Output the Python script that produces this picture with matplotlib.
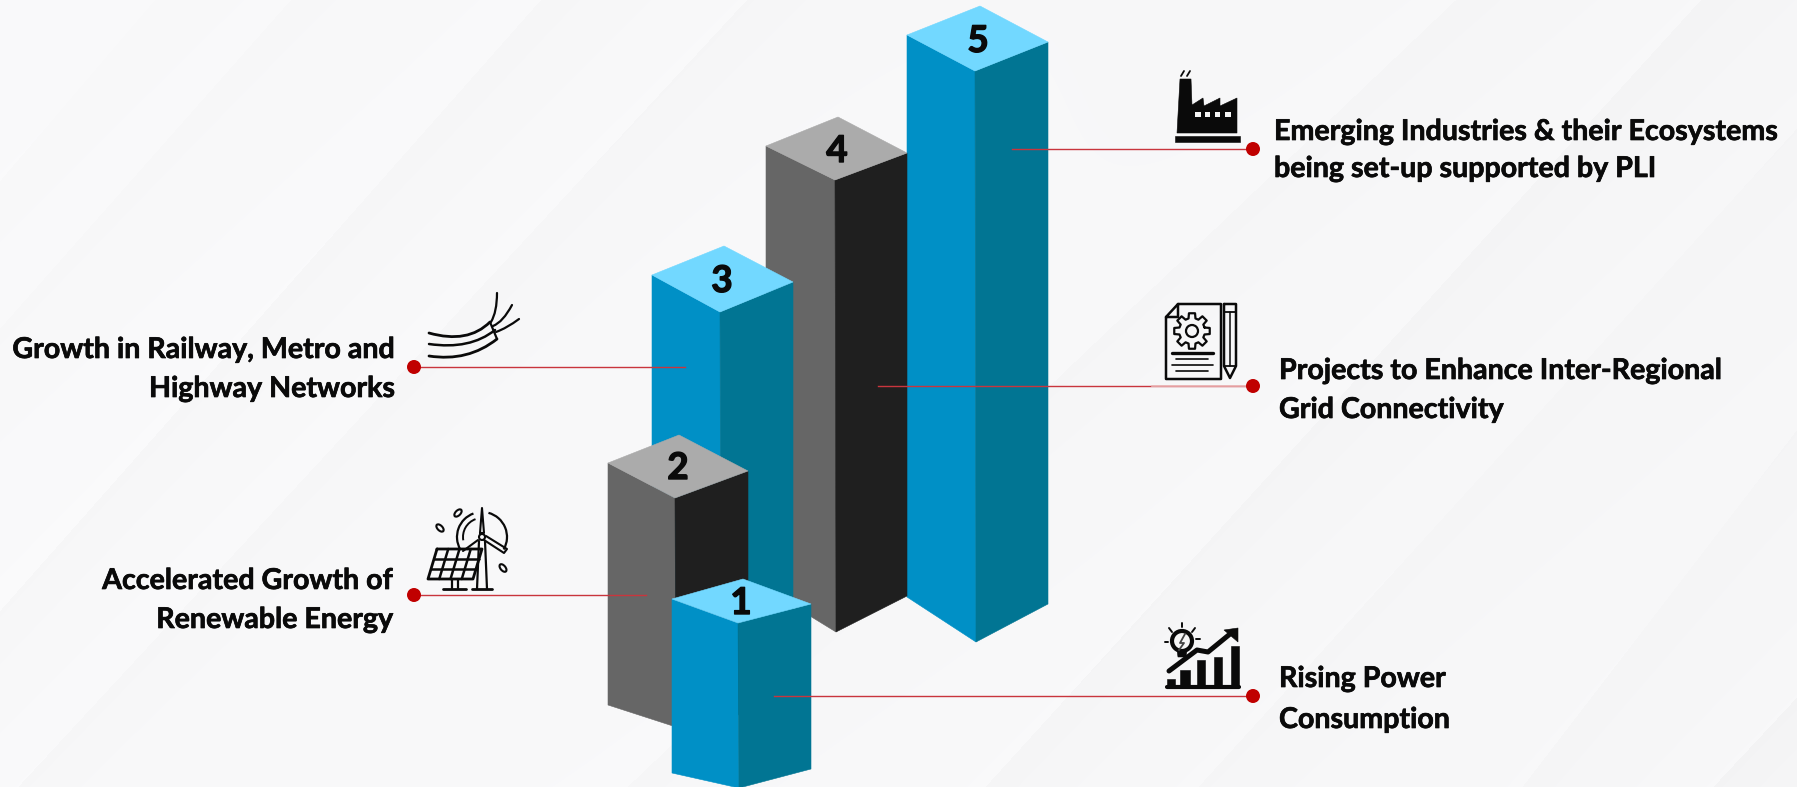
#!/usr/bin/env python3
"""Five isometric columns with callouts on what drives transmission demand."""
import matplotlib
matplotlib.use("Agg")
import matplotlib.pyplot as plt
import matplotlib.patheffects as pe
from matplotlib.patches import Polygon, Circle, Ellipse, Arc, Rectangle
from matplotlib.path import Path
from matplotlib.patches import PathPatch
import numpy as np

W, H = 1797, 787

# ── Data ───────────────────────────────────────────────────────────────────
steps = ["1", "2", "3", "4", "5"]
bar_heights = [165, 229, 380, 452, 571]
callouts = [
    ["Rising Power", "Consumption"],
    ["Accelerated Growth of", "Renewable Energy"],
    ["Growth in Railway, Metro and", "Highway Networks"],
    ["Projects to Enhance Inter-Regional", "Grid Connectivity"],
    ["Emerging Industries & their Ecosystems", "being set-up supported by PLI"],
]

# ── Layout (pixel coordinates, y down) ─────────────────────────────────────
# top diamond of each column: left, back, right, front corner
tops = [
    [(672, 599), (743, 579), (811, 604), (738, 623)],
    [(608, 463), (679, 435), (748, 471), (675, 498)],
    [(652, 275), (724, 246), (793, 282), (720, 312)],
    [(766, 146), (838, 117), (907, 153), (835, 180)],
    [(907, 35), (980, 6), (1048, 42), (975, 71)],
]
left_extra = [9, 13, 0, -9, -9]
right_extra = [0, 13, 0, -9, -9]
number_pos = [(741, 614), (678, 479), (722, 292), (837, 162), (978, 52)]
is_blue = [True, False, True, False, True]

# dot x, line y, line end x, text x, text anchor, text baselines
leaders = [
    (1253, 696, 774, 1279, "left", (687, 728)),
    (414, 595, 646, 393, "right", (589, 628)),
    (414, 367, 685, 395, "right", (358, 397)),
    (1253, 386, 878, 1279, "left", (379, 418)),
    (1253, 149, 1012, 1274, "left", (140, 177)),
]

BLUE = ("#0090c6", "#017593", "#72d8ff")
GREY = ("#666666", "#1f1f1f", "#ababab")
RED = "#c00000"
LINE = "#c9353d"
INK = "#0a0a0a"
PAPER = "#f6f6f6"
FONT = "Lato"
TEXT_SIZE = 20.6

# diagonal folds of the backdrop: x where the fold meets y=0, slope, depth
folds = [(154, 1.17, 1.2), (290, 1.13, 1.5), (540, 1.13, 2.6), (746, 1.08, 2.4),
         (1455, 0.95, 2.4), (1700, 1.10, 3.0), (1913, 1.10, 1.8),
         (2127, 1.30, 2.0), (2448, 1.07, 3.2)]


def backdrop():
    yy, xx = np.mgrid[0:H, 0:W]
    img = np.full((H, W), 249.5)
    for x0, slope, depth in folds:
        d = xx - (x0 - yy / slope)
        img -= depth * np.exp(-np.clip(d, 0, None) / 90.0) * (d > 0)
        img += 0.4 * depth * np.exp(-np.clip(-d, 0, None) / 60.0) * (d <= 0)
    # the right half sits a touch darker than the left
    img -= 2.5 * xx / W
    img = np.clip(img, 0, 255) / 255.0
    rgb = np.dstack([img, img, img + 0.004])
    return np.clip(rgb, 0, 1)


def poly(ax, pts, fc, z=3):
    ax.add_patch(Polygon(pts, closed=True, fc=fc, ec=fc, lw=0.4, zorder=z))


def column(ax, top, height, dl, dr, colors, z):
    left, back, right, front = top
    lb = (left[0], left[1] + height + dl)
    rb = (right[0], right[1] + height + dr)
    fb = (front[0] + 1, front[1] + height)
    poly(ax, [left, front, fb, lb], colors[0], z)
    poly(ax, [front, right, rb, fb], colors[1], z)
    poly(ax, [left, back, right, front], colors[2], z)


def stroke(ax, xs, ys, lw=1.8, color=INK):
    ax.plot(xs, ys, color=color, lw=lw, solid_capstyle="round",
            solid_joinstyle="round", zorder=4)


def curve(ax, pts, lw=1.8):
    codes = [Path.MOVETO] + [Path.CURVE3] * (len(pts) - 1)
    ax.add_patch(PathPatch(Path(pts, codes), fc="none", ec=INK, lw=lw,
                           capstyle="round", zorder=4))


def factory_icon(ax):
    poly(ax, [(1175, 136), (1240, 136), (1240, 142), (1175, 142)], INK, 4)
    poly(ax, [(1177, 133), (1180, 79), (1191, 79), (1192, 105), (1203, 98),
              (1204, 106), (1220, 98), (1220, 106), (1237, 98), (1237, 133)],
         INK, 4)
    for wx, ww in ((1195, 6), (1205, 5), (1215, 5), (1225, 6)):
        ax.add_patch(Rectangle((wx, 112), ww, 5, fc=PAPER, ec="none", zorder=5))
    stroke(ax, [1181, 1184], [76, 71], 1.3)
    stroke(ax, [1187, 1190], [76, 71], 1.3)


def document_icon(ax):
    stroke(ax, [1178, 1221, 1221, 1166, 1166, 1178, 1178, 1166],
           [304, 304, 379, 379, 317, 304, 317, 317])
    stroke(ax, [1224, 1236, 1236, 1230, 1224, 1224], [304, 304, 366, 378, 366, 304])
    stroke(ax, [1224, 1236], [312, 312], 1.3)
    stroke(ax, [1224, 1236], [366, 366], 1.3)
    stroke(ax, [1230, 1230], [312, 366], 1.1)
    # gear outline
    ang = np.linspace(0, 2 * np.pi, 8, endpoint=False)
    gx, gy = [], []
    for a in ang:
        for da, r in ((-0.27, 13), (-0.17, 18), (0.17, 18), (0.27, 13)):
            gx.append(1192 + r * np.cos(a + da))
            gy.append(331 + r * np.sin(a + da))
    stroke(ax, gx + gx[:1], gy + gy[:1], 1.6)
    ax.add_patch(Circle((1192, 331), 6, fc="none", ec=INK, lw=1.6, zorder=4))
    stroke(ax, [1172, 1213], [353, 353], 2.4)
    stroke(ax, [1176, 1208], [359, 359], 1.2)
    stroke(ax, [1172, 1213], [365, 365], 1.2)
    stroke(ax, [1176, 1208], [371, 371], 1.2)


def cable_icon(ax):
    curve(ax, [(429, 333), (468, 344), (490, 322)], 2.0)
    curve(ax, [(429, 344), (470, 350), (495, 330)], 1.8)
    curve(ax, [(429, 356), (468, 362), (497, 339)], 2.0)
    stroke(ax, [490, 497], [322, 339], 1.6)
    curve(ax, [(491, 322), (497, 312), (497, 293)], 1.6)
    curve(ax, [(493, 326), (503, 322), (512, 305)], 1.6)
    curve(ax, [(496, 332), (507, 328), (519, 319)], 1.6)


def solar_icon(ax):
    panel = [(437, 549), (482, 549), (473, 579), (428, 579)]
    stroke(ax, [p[0] for p in panel] + [437], [p[1] for p in panel] + [549], 2.0)
    for f in (1 / 3, 2 / 3):
        stroke(ax, [437 - 9 * f, 482 - 9 * f], [549 + 30 * f] * 2, 1.8)
    for f in (0.25, 0.5, 0.75):
        stroke(ax, [437 + 45 * f, 428 + 45 * f], [549, 579], 1.8)
    stroke(ax, [452, 452], [579, 588], 1.6)
    stroke(ax, [458, 458], [579, 588], 1.6)
    stroke(ax, [443, 466], [589, 589], 2.0)
    stroke(ax, [479, 477], [541, 589], 1.6)
    stroke(ax, [485, 487], [541, 589], 1.6)
    stroke(ax, [472, 492], [589, 589], 2.0)
    ax.add_patch(Circle((482, 537), 3, fc="none", ec=INK, lw=1.5, zorder=4))
    stroke(ax, [480, 482, 484, 480], [533, 508, 533, 533], 1.5)
    stroke(ax, [486, 507, 504, 484], [536, 549, 553, 540], 1.5)
    stroke(ax, [478, 463], [540, 551], 1.5)
    ax.add_patch(Arc((482, 537), 50, 50, theta1=150, theta2=250, ec=INK, lw=1.6, zorder=4))
    ax.add_patch(Arc((482, 537), 50, 50, theta1=285, theta2=30, ec=INK, lw=1.6, zorder=4))
    ax.add_patch(Arc((482, 537), 38, 38, theta1=170, theta2=250, ec=INK, lw=1.4, zorder=4))
    for cx, cy, ang in ((440, 528, 45), (458, 513, -45), (503, 568, 50)):
        ax.add_patch(Ellipse((cx, cy), 9, 5, angle=ang, fc="none", ec=INK, lw=1.5, zorder=4))


def growth_icon(ax):
    ox, oy = 1140, 600
    for x0, x1, ytop in ((80, 105, 237), (120, 150, 210), (170, 195, 180),
                         (222, 247, 172), (273, 297, 138)):
        poly(ax, [(ox + x0 / 3, oy + ytop / 3), (ox + x1 / 3, oy + ytop / 3),
                  (ox + x1 / 3, 687), (ox + x0 / 3, 687)], INK, 4)
    stroke(ax, [1167, 1239], [687, 687], 3.0)
    stroke(ax, [1169, 1197, 1208, 1230], [671, 650, 652, 634], 3.6)
    poly(ax, [(1224, 630), (1238, 628), (1238, 642)], INK, 4)
    ax.add_patch(Circle((1182, 641), 10, fc=PAPER, ec=INK, lw=3.0, zorder=5))
    poly(ax, [(1177, 650), (1187, 650), (1186, 657), (1178, 657)], INK, 5)
    ax.plot([1185, 1180, 1184, 1179], [634, 643, 643, 650], color="#444444",
            lw=1.3, zorder=6)
    for xs, ys in (([1182, 1182], [623, 627]), ([1169, 1172], [628, 632]),
                   ([1195, 1192], [628, 632]), ([1165, 1168], [642, 642]),
                   ([1196, 1200], [639, 639])):
        stroke(ax, xs, ys, 1.4)


plt.rcParams["font.family"] = [FONT, "DejaVu Sans"]

fig = plt.figure(figsize=(W / 100, H / 100), dpi=100)
ax = fig.add_axes([0, 0, 1, 1])
ax.set_xlim(0, W)
ax.set_ylim(H, 0)
ax.axis("off")

ax.imshow(backdrop(), extent=(0, W, H, 0), aspect="auto", zorder=0,
          interpolation="bilinear")

heavy = [pe.withStroke(linewidth=0.5, foreground=INK)]

# Columns go back to front so the short ones overlap the tall ones
for i in [4, 3, 2, 1, 0]:
    colors = BLUE if is_blue[i] else GREY
    column(ax, tops[i], bar_heights[i], left_extra[i], right_extra[i], colors, 3 + (4 - i) * 0.1)
    nx, ny = number_pos[i]
    ax.text(nx, ny, steps[i], ha="center", va="baseline", fontsize=26.5,
            fontweight="bold", color=INK, zorder=3.05 + (4 - i) * 0.1,
            path_effects=[pe.withStroke(linewidth=1.0, foreground=INK)])

for (dot_x, y, end_x, tx, ha, bases), lines in zip(leaders, callouts):
    ax.plot([dot_x, end_x], [y, y], color=LINE, lw=1.0, zorder=5)
    ax.add_patch(Circle((dot_x, y), 7, fc=RED, ec="none", zorder=6))
    for text, base in zip(lines, bases):
        ax.text(tx, base, text, ha=ha, va="baseline", fontsize=TEXT_SIZE,
                fontweight="bold", color=INK, zorder=6, path_effects=heavy)

# the stretch of the grid connectivity leader under its icon is paler
ax.plot([1152, 1246], [386, 386], color="#eab4b4", lw=1.2, zorder=5.5)

factory_icon(ax)
document_icon(ax)
cable_icon(ax)
solar_icon(ax)
growth_icon(ax)

fig.savefig("out.png", dpi=100)
